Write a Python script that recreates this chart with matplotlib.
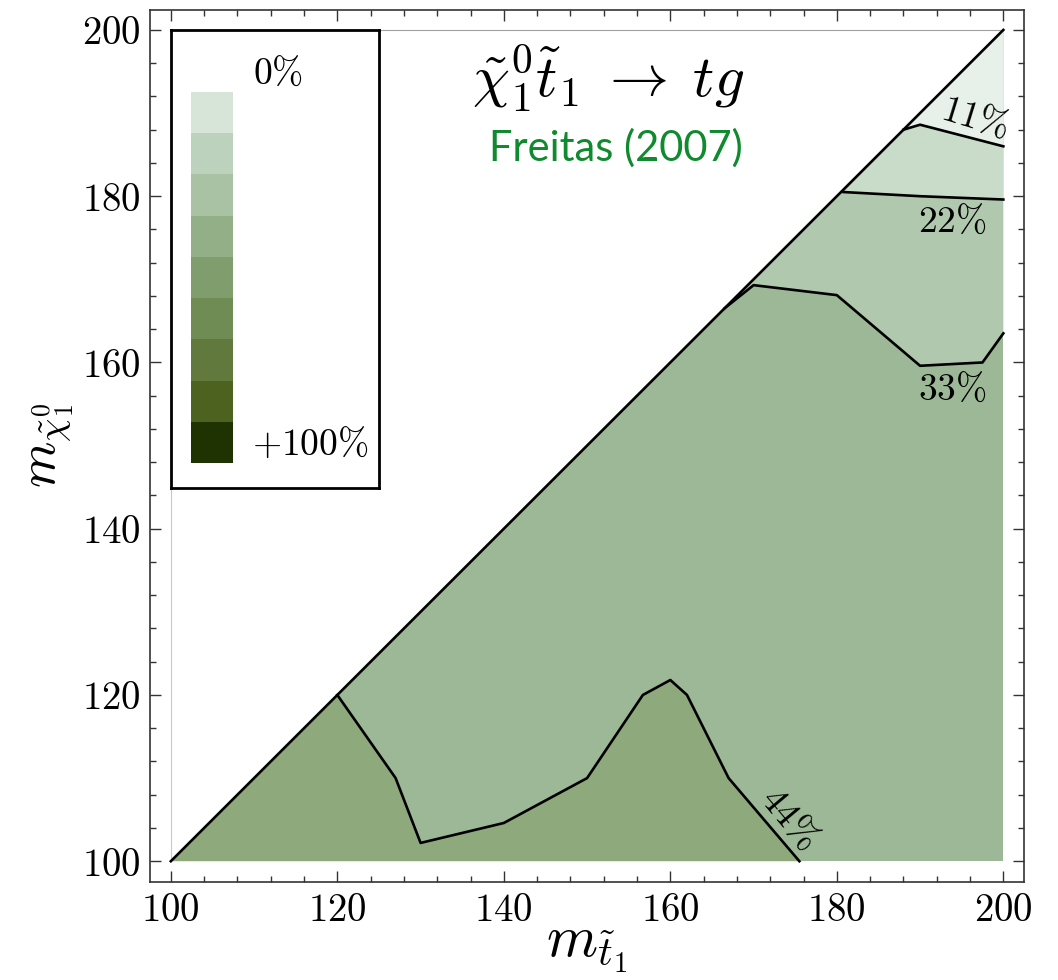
import numpy as np
import matplotlib
matplotlib.use("Agg")
import matplotlib.pyplot as plt
from matplotlib.colors import ListedColormap
from matplotlib.ticker import MultipleLocator, FuncFormatter

plt.rcParams["mathtext.fontset"] = "cm"
plt.rcParams["font.family"] = "serif"
plt.rcParams["font.serif"] = ["DejaVu Serif"]

# Mass range (GeV) of the scanned triangle m_chi <= m_stop
M_MIN, M_MAX = 100, 200

# Contour lines of the relative correction, traced on the (m_stop, m_chi) plane
level_labels = ["11%", "22%", "33%", "44%"]
c11_x = [188.0, 190.0, 200.0]
c11_y = [188.0, 188.6, 186.0]
c22_x = [180.8, 190.0, 200.0]
c22_y = [180.5, 180.0, 179.6]
c33_x = [166.5, 170.0, 180.0, 190.0, 197.5, 200.0]
c33_y = [166.5, 169.3, 168.1, 159.6, 160.0, 163.5]
c44_x = [120.0, 127.0, 130.0, 140.0, 150.0, 156.7, 160.0, 162.0, 167.0, 175.5]
c44_y = [120.0, 110.0, 102.2, 104.6, 110.0, 120.0, 121.8, 120.0, 110.0, 100.0]

# Band colours: 0-11, 11-22, 22-33, 33-44, >44 %
band_colors = ["#e7f0e9", "#c9dcca", "#b0c8ad", "#9db896", "#8ea97c"]

# Legend colour scale, 0% (top) to +100% (bottom)
scale_colors = ["#d6e5d8", "#bcd2bd", "#a8c2a3", "#93af88", "#809d6d",
                "#6f8c54", "#61793c", "#4d621e", "#1f3202"]
scale_labels = ["0%", "+100%"]

label_pos = {"11%": (196.6, 189.3, -17), "22%": (193.9, 176.9, 0),
             "33%": (193.9, 156.7, 0), "44%": (174.2, 105.0, -50)}

fig = plt.figure(figsize=(10.58, 9.8), dpi=100)
ax = fig.add_axes([0.1418, 0.1, 0.8262, 0.8898])
ax.set_xlim(97.5, 202.5)
ax.set_ylim(97.5, 202.4)

# Whole triangle in the 33-44% band
ax.fill([M_MIN, M_MAX, M_MAX], [M_MIN, M_MIN, M_MAX], color=band_colors[3], lw=0, zorder=1)

# Bands above the upper contours: polygon closes through the triangle's top corner
for (cx, cy), col in zip([(c33_x, c33_y), (c22_x, c22_y), (c11_x, c11_y)],
                         [band_colors[2], band_colors[1], band_colors[0]]):
    ax.fill(list(cx) + [M_MAX], list(cy) + [M_MAX], color=col, lw=0, zorder=2)

# Band below the 44% contour: closes through the lower-left corner
ax.fill(list(c44_x) + [M_MIN], list(c44_y) + [M_MIN], color=band_colors[4], lw=0, zorder=2)

# Contour lines
for cx, cy in [(c11_x, c11_y), (c22_x, c22_y), (c33_x, c33_y), (c44_x, c44_y)]:
    ax.plot(cx, cy, color="black", lw=1.9, zorder=4)

# Kinematic boundary m_chi = m_stop
ax.plot([M_MIN, M_MAX], [M_MIN, M_MAX], color="black", lw=1.9, zorder=4)
# Thin outline of the plotted region
ax.plot([M_MIN, M_MIN], [M_MIN, M_MAX], color="#c8c8c8", lw=0.8, zorder=0)
ax.plot([M_MIN, M_MAX], [M_MAX, M_MAX], color="#a0a0a0", lw=0.8, zorder=0)

for lab in level_labels:
    x, y, rot = label_pos[lab]
    ax.text(x, y, "$" + lab.replace("%", r"\%") + "$", fontsize=27, rotation=rot,
            ha="center", va="center", zorder=5)

# Ticks on all sides, pointing inward
ax.xaxis.set_major_locator(MultipleLocator(20))
ax.xaxis.set_minor_locator(MultipleLocator(4))
ax.yaxis.set_major_locator(MultipleLocator(20))
ax.yaxis.set_minor_locator(MultipleLocator(4))
fmt = FuncFormatter(lambda v, p: f"${int(round(v))}$")
ax.xaxis.set_major_formatter(fmt)
ax.yaxis.set_major_formatter(fmt)
ax.tick_params(which="both", direction="in", top=True, right=True, color="#333333", width=1.0)
ax.tick_params(which="major", length=8, labelsize=28, pad=7)
ax.tick_params(which="minor", length=4.5)
for s in ax.spines.values():
    s.set_color("#333333")
    s.set_linewidth(1.2)

ax.set_xlabel(r"$m_{\tilde{t}_1}$", fontsize=42, labelpad=-7)
ax.set_ylabel(r"$m_{\tilde{\chi}^0_1}$", fontsize=38, labelpad=4)

# Process and reference
ax.text(0.575, 0.920, r"$\tilde{\chi}^0_1\tilde{t}_1\;\rightarrow\;tg$", transform=fig.transFigure,
        fontsize=42.5, ha="center", va="center", zorder=6)
ax.text(0.582, 0.849, "Freitas (2007)", transform=fig.transFigure, family="Lato",
        fontsize=30, color="#0f8a2f", ha="center", va="center", zorder=6)

# Legend box with the colour scale
lax = fig.add_axes([171 / 1058, (980 - 488) / 980, (379 - 171) / 1058, (488 - 30) / 980])
lax.set_xticks([])
lax.set_yticks([])
for s in lax.spines.values():
    s.set_linewidth(2.0)
    s.set_color("black")
lax.set_xlim(0, 1)
lax.set_ylim(0, 1)
lax.text(0.515, 0.905, "$" + scale_labels[0].replace("%", r"\%") + "$", fontsize=27,
         ha="center", va="center")
lax.text(0.67, 0.095, "$" + scale_labels[1].replace("%", r"\%") + "$", fontsize=27,
         ha="center", va="center")

cax = fig.add_axes([191 / 1058, (980 - 463) / 980, 42 / 1058, 371 / 980])
cmap = ListedColormap(scale_colors[::-1])
cax.pcolormesh(np.array([[i] for i in range(len(scale_colors))]), cmap=cmap, vmin=-0.5,
               vmax=len(scale_colors) - 0.5)
cax.set_axis_off()

fig.savefig("out.png", dpi=100)
